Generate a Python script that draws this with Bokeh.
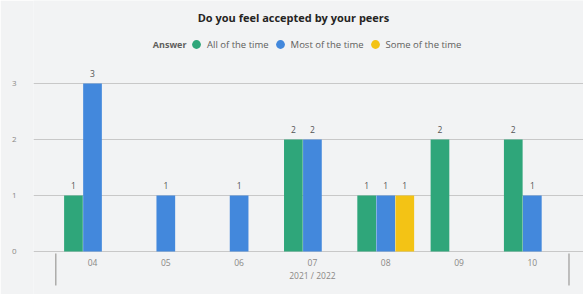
from bokeh.plotting import figure
from bokeh.models import (ColumnDataSource, FixedTicker, Legend, LegendItem, Label)
from bokeh.transform import dodge
from bokeh.core.properties import value
from bokeh.embed import file_html
from bokeh.resources import INLINE

months = ["04", "05", "06", "07", "08", "09", "10"]
group_label = "2021 / 2022"
series_names = ["All of the time", "Most of the time", "Some of the time"]
all_time = [1, 0, 0, 2, 1, 2, 2]
most_time = [3, 1, 1, 2, 1, 0, 1]
some_time = [0, 0, 0, 0, 1, 0, 0]
colors = ["#2fa67a", "#4388dc", "#f3c315"]
title_text = "Do you feel accepted by your peers"
legend_title = "Answer"

FONT = "Open Sans"
BG = "#f2f3f4"

idx = list(range(len(months)))

p = figure(width=583, height=294, output_backend="svg", toolbar_location=None,
           x_range=(-0.805, 6.698), y_range=(-0.768, 4.482),
           min_border_left=33, min_border_right=0, min_border_top=0, min_border_bottom=0)
p.background_fill_color = BG
p.border_fill_color = BG
p.outline_line_color = None
p.xaxis.visible = False
p.xgrid.visible = False
p.yaxis.ticker = FixedTicker(ticks=[0, 1, 2, 3])
p.yaxis.axis_line_color = None
p.yaxis.major_tick_line_color = None
p.yaxis.minor_tick_line_color = None
p.yaxis.major_label_text_font = FONT
p.yaxis.major_label_text_font_size = "8px"
p.yaxis.major_label_text_color = "#8a8886"
p.yaxis.major_label_standoff = 11
p.ygrid.ticker = FixedTicker(ticks=[0, 1, 2, 3])
p.ygrid.grid_line_color = "#c8c8c8"
p.ygrid.grid_line_width = 1

offsets = [-0.26, 0.0, 0.26]
all_series = [all_time, most_time, some_time]
for name, vals, col, off in zip(series_names, all_series, colors, offsets):
    src = ColumnDataSource(dict(x=idx, top=vals))
    p.vbar(x=dodge("x", off, range=p.x_range), top="top", width=0.255, bottom=0,
           source=src, fill_color=col, line_color=None)
    nz = [(i, v) for i, v in zip(idx, vals) if v > 0]
    lsrc = ColumnDataSource(dict(x=[a for a, _ in nz], y=[b for _, b in nz],
                                 t=[str(b) for _, b in nz]))
    p.text(x=dodge("x", off, range=p.x_range), y="y", text="t", source=lsrc,
           text_align="center", text_baseline="bottom", y_offset=-6,
           text_font=value(FONT), text_font_size="8.5px", text_color="#555555")

# month labels
msrc = ColumnDataSource(dict(x=idx, y=[-0.2] * len(idx), t=months))
p.text(x="x", y="y", text="t", source=msrc, text_align="center", text_baseline="middle",
       text_font=value(FONT), text_font_size="8.5px", text_color="#8a8886")
gsrc = ColumnDataSource(dict(x=[(idx[0] + idx[-1]) / 2], y=[-0.43], t=[group_label]))
p.text(x="x", y="y", text="t", source=gsrc, text_align="center", text_baseline="middle",
       text_font=value(FONT), text_font_size="8.5px", text_color="#8a8886")
# hierarchy separators
p.segment(x0=[idx[0] - 0.5, idx[-1] + 0.5], y0=[-0.036, -0.036],
          x1=[idx[0] - 0.5, idx[-1] + 0.5], y1=[-0.607, -0.607],
          line_color="#8a8886", line_width=1)

# title
p.add_layout(Label(x=2.742, y=4.179, text=title_text, text_align="center", text_baseline="middle",
                   text_font=FONT, text_font_size="11px", text_font_style="bold",
                   text_color="#252423"))
p.add_layout(Label(x=1.282, y=3.696, text=legend_title, text_align="right", text_baseline="middle",
                   text_font=FONT, text_font_size="9px", text_font_style="bold",
                   text_color="#605e5c"))

# legend
items = []
for name, col in zip(series_names, colors):
    r = p.scatter(x=[-10], y=[-10], marker="circle", size=9, fill_color=col, line_color=None)
    items.append(LegendItem(label=name, renderers=[r]))
legend = Legend(items=items, orientation="horizontal", location=(152, 239),
                background_fill_alpha=0, border_line_color=None, margin=0,
                label_text_font=FONT, label_text_font_size="9.5px", label_text_color="#605e5c",
                glyph_width=22, glyph_height=22, label_standoff=-5, spacing=-5, padding=0,
                label_height=22)
p.add_layout(legend)

open("out.html", "w").write(file_html(p, INLINE))
